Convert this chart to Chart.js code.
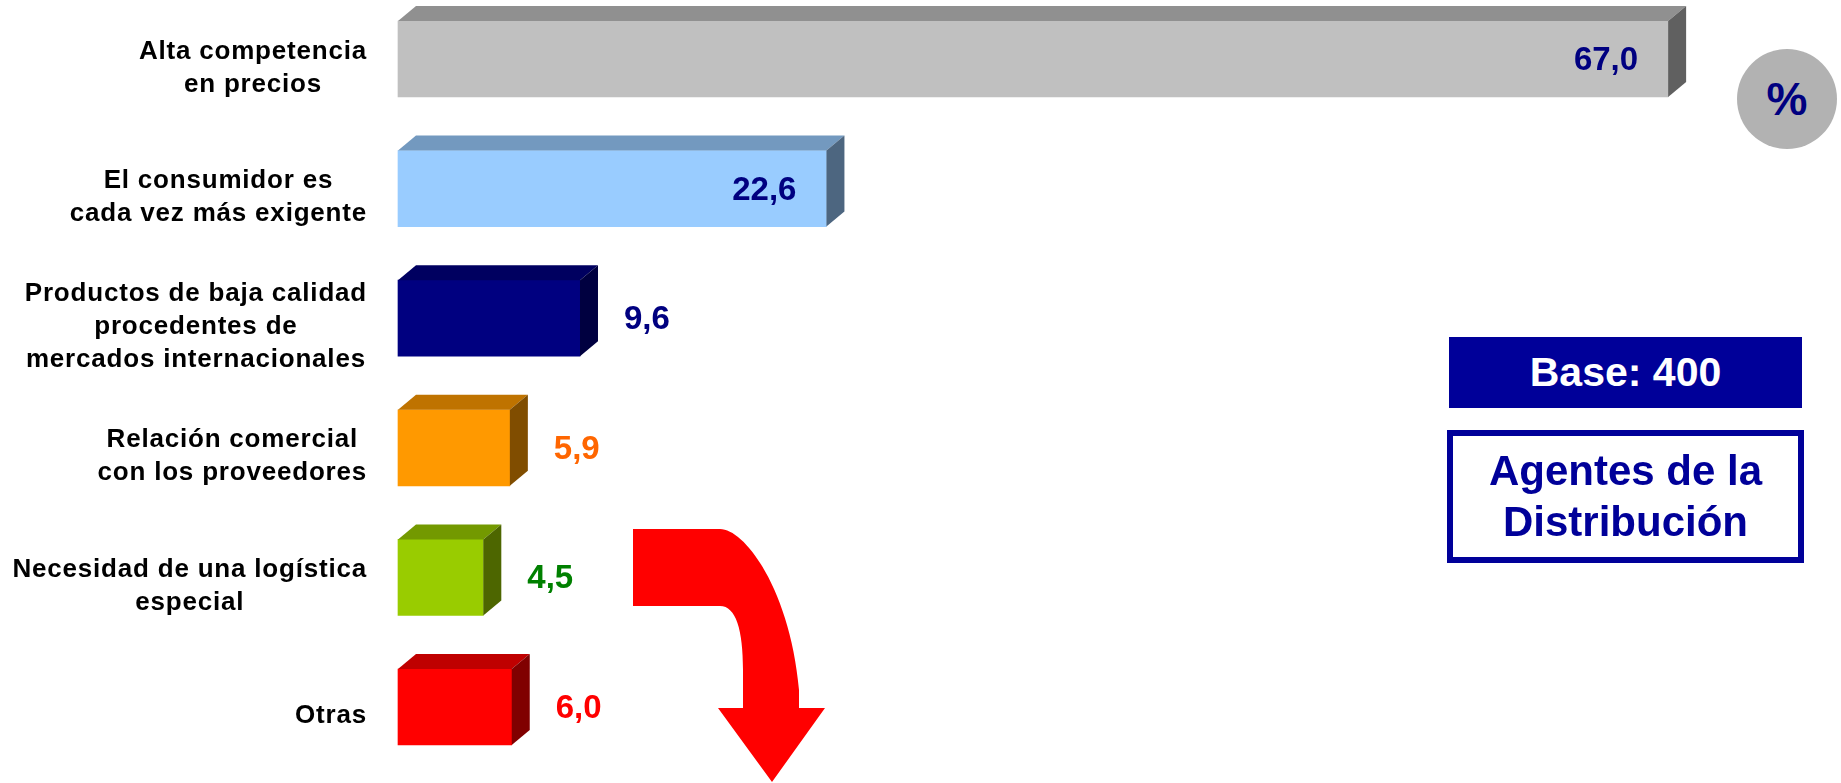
<!DOCTYPE html>
<html lang="es">
<head>
<meta charset="utf-8">
<title>Agentes de la Distribución</title>
<script src="https://cdn.jsdelivr.net/npm/chart.js@4.4.1/dist/chart.umd.min.js"></script>
<style>
  html, body { margin: 0; padding: 0; background: #fff; }
  body { width: 1841px; height: 783px; position: relative; overflow: hidden;
         font-family: "Liberation Sans", Arial, sans-serif; font-weight: bold; }
  #wrap { position: absolute; left: 0; top: 0; width: 1841px; height: 783px; }
  .pct { position: absolute; left: 1737px; top: 49px; width: 100px; height: 100px; border-radius: 50%;
         background: #b2b2b2; color: #000080; font-size: 46px; line-height: 100px; text-align: center; }
  .base { position: absolute; left: 1449px; top: 337px; width: 353px; height: 71px; background: #000099;
          color: #fff; font-size: 41px; line-height: 71px; text-align: center; }
  .agentes { position: absolute; left: 1447px; top: 430px; width: 345px; height: 121px; border: 6px solid #000099;
             color: #000099; font-size: 42px; line-height: 51px; text-align: center; padding-top: 0; }
  .agentes span { display: block; padding-top: 9px; }
  svg.arrow { position: absolute; left: 0; top: 0; }
</style>
</head>
<body>
<div id="wrap"><canvas id="motivosChart"></canvas></div>

<svg class="arrow" width="1841" height="783">
  <path d="M 633 529 L 720 529 C 745 529, 790 590, 799 690 L 799 708 L 825 708 L 772 782 L 718 708 L 743 708 L 743 670 C 743 630, 736 606, 720 606 L 633 606 Z" fill="#ff0000"/>
</svg>

<div class="pct">%</div>
<div class="base">Base: 400</div>
<div class="agentes"><span>Agentes de la<br>Distribución</span></div>

<script>
/* ── Datos ─────────────────────────────────────────── */
const categories = [
    ['Alta competencia', 'en precios'],
    ['El consumidor es', 'cada vez más exigente'],
    ['Productos de baja calidad', 'procedentes de', 'mercados internacionales'],
    ['Relación comercial', 'con los proveedores'],
    ['Necesidad de una logística', 'especial'],
    ['Otras']
];
const values = [67.0, 22.6, 9.6, 5.9, 4.5, 6.0];
const barColors = ['#C0C0C0', '#99CCFF', '#000080', '#FF9900', '#99CC00', '#FF0000'];
const valueColors = ['#000080', '#000080', '#000080', '#FF6600', '#008000', '#FF0000'];

const FONT = '"Liberation Sans", Arial, sans-serif';
const DEPTH_X = 18, DEPTH_Y = 15;

function shade(hex, f) {
    const n = parseInt(hex.slice(1), 16);
    const r = Math.round(((n >> 16) & 255) * f);
    const g = Math.round(((n >> 8) & 255) * f);
    const b = Math.round((n & 255) * f);
    return 'rgb(' + r + ',' + g + ',' + b + ')';
}

/* ── caras 3D + etiquetas ─────────────────────────── */
const bar3d = {
    id: 'bar3d',
    afterDatasetsDraw(chart) {
        const ctx = chart.ctx;
        const meta = chart.getDatasetMeta(0);
        meta.data.forEach((el, i) => {
            const p = el.getProps(['x', 'y', 'base', 'height'], true);
            const top = p.y - p.height / 2, bottom = p.y + p.height / 2;
            const left = Math.min(p.base, p.x), right = Math.max(p.base, p.x);
            const col = barColors[i];

            // cara superior
            ctx.save();
            ctx.fillStyle = shade(col, 0.75);
            ctx.beginPath();
            ctx.moveTo(left, top);
            ctx.lineTo(left + DEPTH_X, top - DEPTH_Y);
            ctx.lineTo(right + DEPTH_X, top - DEPTH_Y);
            ctx.lineTo(right, top);
            ctx.closePath();
            ctx.fill();
            // cara lateral
            ctx.fillStyle = shade(col, 0.5);
            ctx.beginPath();
            ctx.moveTo(right, top);
            ctx.lineTo(right + DEPTH_X, top - DEPTH_Y);
            ctx.lineTo(right + DEPTH_X, bottom - DEPTH_Y);
            ctx.lineTo(right, bottom);
            ctx.closePath();
            ctx.fill();
            ctx.restore();

            // valor
            const txt = values[i].toFixed(1).replace('.', ',');
            ctx.save();
            ctx.font = 'bold 33px ' + FONT;
            ctx.fillStyle = valueColors[i];
            ctx.textBaseline = 'middle';
            if (values[i] > 15) {
                ctx.textAlign = 'right';
                ctx.fillText(txt, right - 30, p.y + 2);
            } else {
                ctx.textAlign = 'left';
                ctx.fillText(txt, right + 44, p.y + 2);
            }
            ctx.restore();

            // categoría
            const lines = categories[i];
            ctx.save();
            ctx.font = 'bold 26px ' + FONT;
            if ('letterSpacing' in ctx) ctx.letterSpacing = '0.8px';
            ctx.fillStyle = '#000';
            ctx.textBaseline = 'middle';
            ctx.textAlign = 'center';
            const maxW = Math.max(...lines.map(l => ctx.measureText(l).width));
            const cx = 367 - maxW / 2;
            const lh = 33;
            const y0 = p.y + 9 - (lines.length - 1) * lh / 2;
            lines.forEach((l, k) => ctx.fillText(l, cx, y0 + k * lh));
            ctx.restore();
        });
    }
};

/* ── Gráfico ─────────────────────────────────────── */
new Chart(document.getElementById('motivosChart'), {
    type: 'bar',
    data: {
        labels: categories,
        datasets: [{
            data: values,
            backgroundColor: barColors,
            borderWidth: 0,
            barThickness: 76,
            clip: false
        }]
    },
    options: {
        indexAxis: 'y',
        responsive: true,
        maintainAspectRatio: false,
        animation: false,
        layout: { padding: { left: 398, right: 116, top: 59, bottom: 76 } },
        plugins: { legend: { display: false }, tooltip: { enabled: false } },
        scales: {
            x: { display: false, min: 0, max: 70 },
            y: { display: false, offset: false, grid: { display: false } }
        }
    },
    plugins: [bar3d]
});
</script>
</body>
</html>
